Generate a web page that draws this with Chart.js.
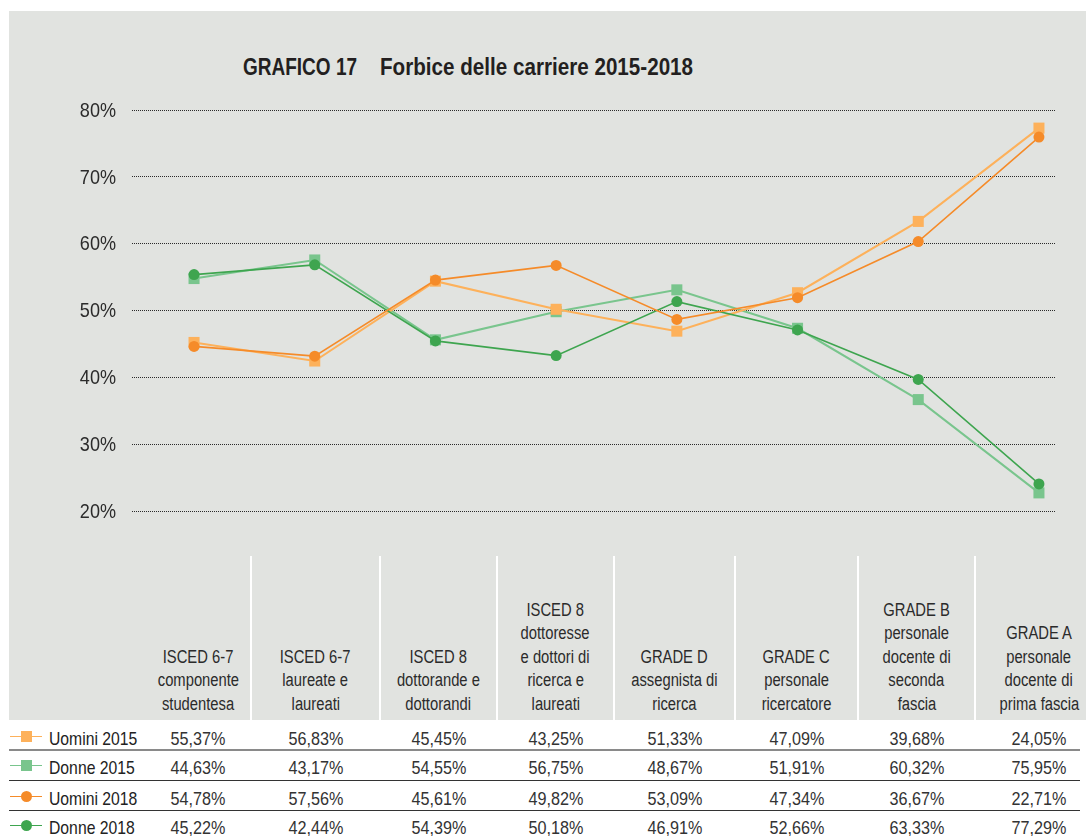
<!DOCTYPE html>
<html><head><meta charset="utf-8">
<script src="https://cdn.jsdelivr.net/npm/chart.js@4.4.0/dist/chart.umd.min.js"></script>
<style>
body{margin:0;width:1086px;height:836px;overflow:hidden;background:#fff;font-family:'Liberation Sans',Arial,sans-serif;color:#2b2b2b;position:relative}
#bg{position:absolute;left:9px;top:11px;width:1077px;height:709px;background:#e1e3e0}
.ttl{position:absolute;top:56px;font-weight:bold;font-size:23px;line-height:23px;color:#231f20;white-space:pre;transform-origin:0 50%}
#chart{position:absolute;left:9px;top:11px}
.hdr{position:absolute;top:556px;height:164px;display:flex;flex-direction:column;justify-content:flex-end;align-items:center;text-align:center;font-size:17.6px;line-height:23.5px;padding-bottom:4px;box-sizing:border-box;color:#2b2b2b}
.hdr span{display:inline-block;white-space:nowrap;transform:scaleX(0.84);transform-origin:50% 50%}
.vdiv{position:absolute;top:556px;height:164px;width:2px;background:#fff}
.cell{position:absolute;height:30px;line-height:30px;text-align:center;font-size:17.6px;color:#333}
.cell span{display:inline-block;transform:scaleX(0.92);transform-origin:50% 50%}
.lab{position:absolute;left:49px;height:30px;line-height:30px;font-size:17.7px;color:#222;white-space:nowrap;transform:scaleX(0.89);transform-origin:0 50%}
.hline{position:absolute;left:9px;width:1071px}
.leg{position:absolute}
</style></head>
<body>
<div id="bg"></div>
<div class="ttl" id="t1" style="left:243px">GRAFICO 17</div>
<div class="ttl" id="t2" style="left:380px">Forbice delle carriere 2015-2018</div>
<canvas id="chart" width="1077" height="545"></canvas>
<div id="table"></div>
<script>
// ---- data ----
const categories = [
  ['ISCED 6-7','componente','studentesa'],
  ['ISCED 6-7','laureate e','laureati'],
  ['ISCED 8','dottorande e','dottorandi'],
  ['ISCED 8','dottoresse','e dottori di','ricerca e','laureati'],
  ['GRADE D','assegnista di','ricerca'],
  ['GRADE C','personale','ricercatore'],
  ['GRADE B','personale','docente di','seconda','fascia'],
  ['GRADE A','personale','docente di','prima fascia']
];
const rowLabels = ['Uomini 2015','Donne 2015','Uomini 2018','Donne 2018'];
const uomini2015 = [55.37,56.83,45.45,43.25,51.33,47.09,39.68,24.05];
const donne2015  = [44.63,43.17,54.55,56.75,48.67,51.91,60.32,75.95];
const uomini2018 = [54.78,57.56,45.61,49.82,53.09,47.34,36.67,22.71];
const donne2018  = [45.22,42.44,54.39,50.18,46.91,52.66,63.33,77.29];
const yTicks = [20,30,40,50,60,70,80];

// ---- title fit ----
[['t1',114],['t2',313]].forEach(([id,w])=>{
  const el=document.getElementById(id);
  el.style.transform=`scaleX(${w/el.offsetWidth})`;
});

// ---- styles ----
const styles = [
  {color:'#fdb15b', point:'rect',   radius:7.8, width:2},
  {color:'#79c58d', point:'rect',   radius:7.8, width:2},
  {color:'#f58b29', point:'circle', radius:5.5, width:1.6},
  {color:'#3ea54f', point:'circle', radius:5.5, width:1.6}
];
const rows = [uomini2015, donne2015, uomini2018, donne2018];
// the plotted lines follow the reference picture (values drawn with the style of the mirrored row)
const plotted = [donne2018, uomini2018, donne2015, uomini2015];
const toXY = arr => arr.map((v,i)=>({x:i,y:v}));
const datasets = styles.map((s,k)=>({
  label: rowLabels[k],
  data: toXY(plotted[k]),
  borderColor: s.color, backgroundColor: s.color,
  borderWidth: s.width, pointStyle: s.point, pointRadius: s.radius,
  pointHoverRadius: s.radius, pointBorderWidth: 0,
  order: s.point==='circle' ? 0 : 1, tension: 0
}));

const tickLabelPlugin = {
  id: 'narrowTicks',
  afterDraw(chart) {
    const sc = chart.scales.y, ctx = chart.ctx;
    ctx.save();
    ctx.font = '21px "Liberation Sans", Arial, sans-serif';
    ctx.fillStyle = '#2b2b2b';
    ctx.textAlign = 'right';
    ctx.textBaseline = 'middle';
    sc.ticks.forEach(t => {
      const y = sc.getPixelForValue(t.value);
      ctx.save();
      ctx.translate(chart.chartArea.left - 16, y + 1);
      ctx.scale(0.86, 1);
      ctx.fillText(t.value + '%', 0, 0);
      ctx.restore();
    });
    ctx.restore();
  }
};

new Chart(document.getElementById('chart'), {
  type: 'line',
  data: {datasets},
  options: {
    responsive: false, animation: false, devicePixelRatio: 1,
    layout: {padding: {left: 0, top: 99, right: 31, bottom: 45}},
    plugins: {legend: {display: false}, tooltip: {enabled: false}},
    scales: {
      x: {type: 'linear', min: -0.514, max: 7.133, display: false},
      y: {
        min: 20, max: 80,
        afterBuildTicks: sc => { sc.ticks = yTicks.map(v=>({value:v})); },
        afterFit: sc => { sc.width = 123; },
        border: {display: false, dash: [1,1]},
        grid: {color: '#2a2a2a', lineWidth: 1, drawTicks: false},
        ticks: {display: false}
      }
    }
  },
  plugins: [tickLabelPlugin]
});

// ---- table (HTML) ----
const bounds = [145,251,380,497,614,735,858,975,1103];
const rowTops = [724,753,784,813];
const tbl = document.getElementById('table');
let html = '';
categories.forEach((lines,i)=>{
  const l = bounds[i], w = bounds[i+1]-bounds[i];
  html += `<div class="hdr" style="left:${l}px;width:${w}px">${lines.map(s=>`<div><span>${s}</span></div>`).join('')}</div>`;
  if (i>0) html += `<div class="vdiv" style="left:${l-1}px"></div>`;
});
rows.forEach((vals,r)=>{
  const t = rowTops[r];
  const s = styles[r];
  const cy = t + 12.5;
  html += `<div class="lab" style="top:${t}px">${rowLabels[r]}</div>`;
  html += `<div class="leg" style="left:10px;top:${cy-0.75}px;width:32px;height:1.5px;background:${s.color}"></div>`;
  const sz = 11;
  html += `<div class="leg" style="top:${cy-sz/2}px;left:${26-sz/2}px;width:${sz}px;height:${sz}px;background:${s.color};border-radius:${s.point==='circle'?'50%':'0'}"></div>`;
  vals.forEach((v,i)=>{
    const l = bounds[i], w = bounds[i+1]-bounds[i];
    html += `<div class="cell" style="top:${t}px;left:${l}px;width:${w}px"><span>${v.toFixed(2).replace('.',',')}%</span></div>`;
  });
});
html += `<div class="hline" style="top:749px;height:2px;background:#8a8a8a"></div>`;
html += `<div class="hline" style="top:780px;height:1px;background:#333"></div>`;
html += `<div class="hline" style="top:810px;height:1px;background:#333"></div>`;
tbl.innerHTML = html;
</script>
</body></html>
